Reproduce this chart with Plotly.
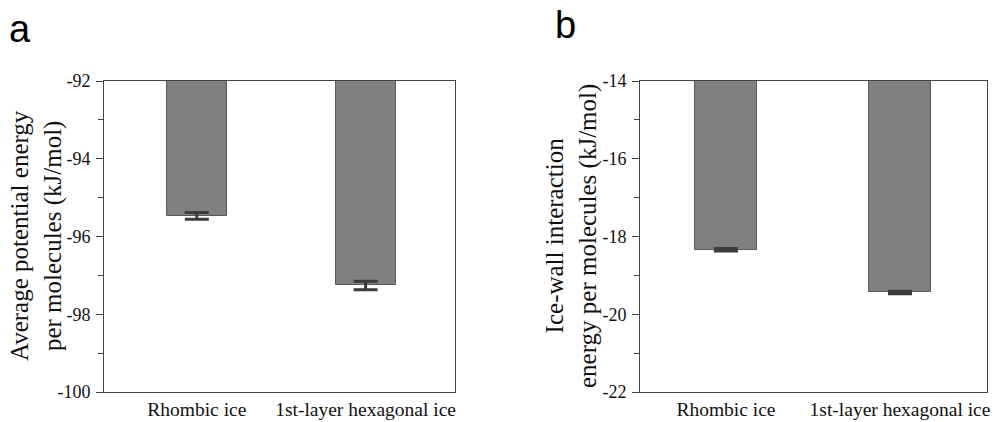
import plotly.graph_objects as go

# Categories shared by both panels
categories = ["Rhombic ice", "1st-layer hexagonal ice"]

# Panel a: average potential energy per molecule (kJ/mol)
energy_a = [-95.47, -97.26]
error_a = [0.085, 0.11]
yticks_a = [-100, -98, -96, -94, -92]
yticklabels_a = ["-100", "-98", "-96", "-94", "-92"]

# Panel b: ice-wall interaction energy per molecule (kJ/mol)
energy_b = [-18.34, -19.44]
error_b = [0.03, 0.03]
yticks_b = [-22, -20, -18, -16, -14]
yticklabels_b = ["-22", "-20", "-18", "-16", "-14"]

W, H = 1000, 422
SERIF = "Liberation Serif"
SANS = "Liberation Sans"
AXIS_COLOR = "#444444"
BAR_FILL = "#808080"
BAR_EDGE = "#5a5a5a"
ERR_COLOR = "#3c3c3c"


def px_x(p):
    return p / W


def px_y(p):
    return 1 - p / H


fig = go.Figure()

fig.add_trace(go.Bar(
    x=categories, y=energy_a, width=0.356,
    marker=dict(color=BAR_FILL, line=dict(color=BAR_EDGE, width=1)),
    error_y=dict(type="data", array=error_a, visible=True,
                 color=ERR_COLOR, thickness=3, width=12),
    xaxis="x", yaxis="y", showlegend=False,
))

fig.add_trace(go.Bar(
    x=categories, y=energy_b, width=0.356,
    marker=dict(color=BAR_FILL, line=dict(color=BAR_EDGE, width=1)),
    error_y=dict(type="data", array=error_b, visible=True,
                 color=ERR_COLOR, thickness=3, width=12),
    xaxis="x2", yaxis="y2", showlegend=False,
))

xaxis_common = dict(
    type="category", showline=True, mirror=True, linecolor=AXIS_COLOR,
    linewidth=1, ticks="", showgrid=False, zeroline=False, automargin=False,
    tickfont=dict(family=SERIF, size=19.5, color="#111111"),
)
yaxis_common = dict(
    showline=True, mirror=True, linecolor=AXIS_COLOR, linewidth=1,
    ticks="outside", ticklen=7, tickwidth=1, tickcolor=AXIS_COLOR,
    showgrid=False, zeroline=False, ticklabelstandoff=2, automargin=False,
    tickfont=dict(family=SERIF, size=18, color="#111111"),
    minor=dict(ticks="outside", ticklen=5, tickwidth=1,
               tickcolor=AXIS_COLOR, dtick=1, showgrid=False),
)

plot_top, plot_bottom = 81, 392
ydom = [px_y(plot_bottom), px_y(plot_top)]

fig.update_layout(
    width=W, height=H,
    margin=dict(l=0, r=0, t=0, b=0, autoexpand=False),
    font=dict(family=SERIF, size=20, color="#111111"),
    paper_bgcolor="white", plot_bgcolor="white",
    bargap=0,
    xaxis=dict(domain=[px_x(104), px_x(455)], range=[-0.55, 1.53],
               anchor="y", **xaxis_common),
    yaxis=dict(domain=ydom, range=[-100, -92], anchor="x",
               tickvals=yticks_a, ticktext=yticklabels_a, **yaxis_common),
    xaxis2=dict(domain=[px_x(640), px_x(987)], range=[-0.494, 1.5],
                anchor="y2", **xaxis_common),
    yaxis2=dict(domain=ydom, range=[-22, -14], anchor="x2",
                tickvals=yticks_b, ticktext=yticklabels_b, **yaxis_common),
)

# Rotated two-line axis titles
fig.add_annotation(
    text="Average potential energy<br>per molecules (kJ/mol)",
    xref="paper", yref="paper", x=px_x(36), y=px_y(236),
    xanchor="center", yanchor="middle", textangle=-90, showarrow=False,
    font=dict(family=SERIF, size=25, color="#111111"),
)
fig.add_annotation(
    text="Ice-wall interaction<br>energy per molecules (kJ/mol)",
    xref="paper", yref="paper", x=px_x(571), y=px_y(236),
    xanchor="center", yanchor="middle", textangle=-90, showarrow=False,
    font=dict(family=SERIF, size=25, color="#111111"),
)

# Panel letters
fig.add_annotation(
    text="a", xref="paper", yref="paper", x=px_x(7), y=px_y(29),
    xanchor="left", yanchor="middle", showarrow=False,
    font=dict(family=SANS, size=38, color="#000000"),
)
fig.add_annotation(
    text="b", xref="paper", yref="paper", x=px_x(553), y=px_y(25),
    xanchor="left", yanchor="middle", showarrow=False,
    font=dict(family=SANS, size=38, color="#000000"),
)

fig.write_html("out.html")
